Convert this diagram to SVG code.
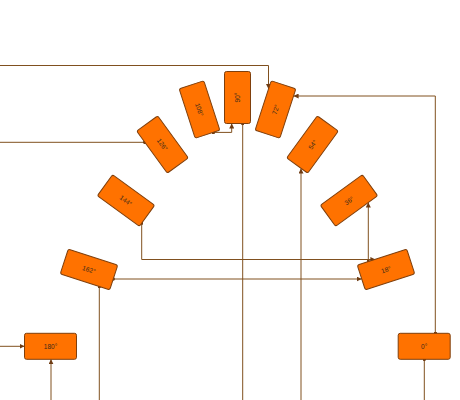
<svg xmlns="http://www.w3.org/2000/svg" width="460" height="400" viewBox="0 0 460 400">
<style>
.node rect{fill:#ff7200;stroke:#7f3f0c;stroke-width:1}
.node text{font-family:"Liberation Sans",Arial,sans-serif;font-size:6.5px;fill:#3a2a1a;text-anchor:middle;dominant-baseline:central}
.edge{fill:none;stroke:#80501f;stroke-width:1}
</style>
<defs>
<marker id="arrow" viewBox="0 0 6 6" refX="6" refY="3" markerWidth="5" markerHeight="5" markerUnits="userSpaceOnUse" orient="auto">
<path d="M0,0 L6,3 L0,6 z" fill="#6e3c14"/>
</marker>
<marker id="dot" viewBox="0 0 4 4" refX="2" refY="2" markerWidth="3.5" markerHeight="3.5" markerUnits="userSpaceOnUse" orient="auto">
<circle cx="2" cy="2" r="2" fill="#6e3c14"/>
</marker>
</defs>
<g id="connectors">
<path class="edge" d="M0,65.5 H268.5 V89" marker-end="url(#arrow)"/>
<path class="edge" d="M144.8,142.3 H0" marker-start="url(#dot)"/>
<path class="edge" d="M213.3,132.4 H231.7 V123.5" marker-start="url(#dot)" marker-end="url(#arrow)"/>
<path class="edge" d="M242.7,123.5 V400" marker-start="url(#dot)"/>
<path class="edge" d="M301,400 V168.5" marker-end="url(#arrow)"/>
<path class="edge" d="M435.3,333.3 V96 H293.6" marker-start="url(#dot)" marker-end="url(#arrow)"/>
<path class="edge" d="M368.3,261.6 V202.5" marker-start="url(#dot)" marker-end="url(#arrow)"/>
<path class="edge" d="M141.7,223.1 V259.5 H375.4" marker-start="url(#dot)" marker-end="url(#arrow)"/>
<path class="edge" d="M113.2,279 H361.7" marker-start="url(#dot)" marker-end="url(#arrow)"/>
<path class="edge" d="M99.3,286.5 V400" marker-start="url(#dot)"/>
<path class="edge" d="M0,346.3 H24.5" marker-end="url(#arrow)"/>
<path class="edge" d="M51,400 V359.3" marker-end="url(#arrow)"/>
<path class="edge" d="M424.3,359.3 V400" marker-start="url(#dot)"/>
</g>
<g id="n0" class="node" transform="translate(424.2,346.3)"><rect x="-26" y="-13" width="52" height="26" rx="2"/><text>0°</text></g>
<g id="n18" class="node" transform="translate(386,269.5) rotate(-18)"><rect x="-26" y="-13" width="52" height="26" rx="2"/><text>18°</text></g>
<g id="n36" class="node" transform="translate(349,200.5) rotate(-36)"><rect x="-26" y="-13" width="52" height="26" rx="2"/><text>36°</text></g>
<g id="n54" class="node" transform="translate(312.5,144.5) rotate(-54)"><rect x="-26" y="-13" width="52" height="26" rx="2"/><text>54°</text></g>
<g id="n72" class="node" transform="translate(275.5,109.5) rotate(-72)"><rect x="-26" y="-13" width="52" height="26" rx="2"/><text>72°</text></g>
<g id="n90" class="node" transform="translate(237.5,97.5) rotate(-90)"><rect x="-26" y="-13" width="52" height="26" rx="2"/><text>90°</text></g>
<g id="n108" class="node" transform="translate(199.5,109.5) rotate(72)"><rect x="-26" y="-13" width="52" height="26" rx="2"/><text>108°</text></g>
<g id="n126" class="node" transform="translate(162.5,144.5) rotate(54)"><rect x="-26" y="-13" width="52" height="26" rx="2"/><text>126°</text></g>
<g id="n144" class="node" transform="translate(126,200.5) rotate(36)"><rect x="-26" y="-13" width="52" height="26" rx="2"/><text>144°</text></g>
<g id="n162" class="node" transform="translate(89,269.5) rotate(18)"><rect x="-26" y="-13" width="52" height="26" rx="2"/><text>162°</text></g>
<g id="n180" class="node" transform="translate(50.5,346.3)"><rect x="-26" y="-13" width="52" height="26" rx="2"/><text>180°</text></g>
</svg>
